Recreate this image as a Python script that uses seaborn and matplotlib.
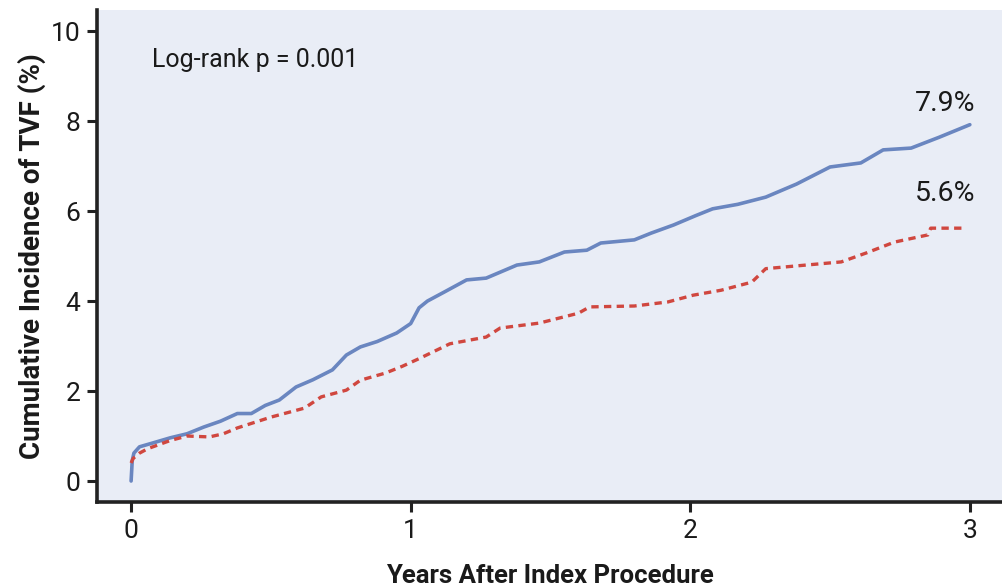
import numpy as np
import pandas as pd
import matplotlib
matplotlib.use("Agg")
import matplotlib.pyplot as plt
import seaborn as sns

# Cumulative incidence of target vessel failure (%) by years after index procedure
years_a = [0.0, 0.004, 0.01, 0.03, 0.08, 0.14, 0.2, 0.26, 0.32, 0.38, 0.43, 0.48, 0.53,
           0.59, 0.65, 0.72, 0.77, 0.82, 0.88, 0.95, 1.0, 1.03, 1.06, 1.12, 1.2, 1.27,
           1.38, 1.46, 1.55, 1.63, 1.68, 1.8, 1.86, 1.94, 2.02, 2.08, 2.17, 2.27, 2.38,
           2.5, 2.61, 2.69, 2.79, 2.89, 3.0]
tvf_a = [0.0, 0.45, 0.62, 0.76, 0.85, 0.96, 1.05, 1.2, 1.33, 1.5, 1.5, 1.68, 1.8,
         2.09, 2.25, 2.47, 2.8, 2.98, 3.1, 3.29, 3.5, 3.85, 4.0, 4.2, 4.47, 4.51,
         4.8, 4.87, 5.09, 5.13, 5.29, 5.36, 5.51, 5.69, 5.9, 6.05, 6.15, 6.31, 6.6,
         6.98, 7.07, 7.36, 7.4, 7.64, 7.92]

years_b = [0.0, 0.007, 0.03, 0.06, 0.14, 0.2, 0.28, 0.33, 0.38, 0.5, 0.62, 0.68, 0.77,
           0.82, 0.91, 0.97, 1.03, 1.14, 1.27, 1.32, 1.46, 1.6, 1.64, 1.8, 1.92, 2.01,
           2.11, 2.22, 2.27, 2.54, 2.63, 2.73, 2.85, 2.86, 2.98]
tvf_b = [0.4, 0.5, 0.62, 0.72, 0.9, 1.0, 0.98, 1.05, 1.18, 1.42, 1.62, 1.87, 2.02,
         2.24, 2.4, 2.55, 2.72, 3.05, 3.2, 3.4, 3.51, 3.73, 3.87, 3.89, 3.98, 4.13,
         4.24, 4.42, 4.72, 4.87, 5.07, 5.31, 5.47, 5.62, 5.62]

final_labels = ["7.9%", "5.6%"]
final_values = [7.9, 5.6]
x_ticks = [0, 1, 2, 3]
y_ticks = [0, 2, 4, 6, 8, 10]

sns.set_theme(style="ticks")
plt.rcParams["font.family"] = ["Roboto", "DejaVu Sans"]

fig = plt.figure(figsize=(10.02, 5.86), dpi=100)
ax = fig.add_axes([0.0968, 0.1433, 0.9032, 0.8397])
ax.set_facecolor("#e9edf6")

df_a = pd.DataFrame({"years": years_a, "tvf": tvf_a})
df_b = pd.DataFrame({"years": years_b, "tvf": tvf_b})

sns.lineplot(data=df_a, x="years", y="tvf", ax=ax, color="#6a86c0",
             linewidth=2.6, estimator=None, sort=False)
sns.lineplot(data=df_b, x="years", y="tvf", ax=ax, color="#d0473f",
             linewidth=2.4, estimator=None, sort=False, linestyle=(0, (2.2, 1.6)))

ax.set_xlim(-0.122, 3.115)
ax.set_ylim(-0.467, 10.47)
ax.set_xticks(x_ticks)
ax.set_yticks(y_ticks)
ax.tick_params(axis="both", labelsize=19, length=7, width=2.2, color="#222222",
               labelcolor="#1a1a1a", pad=5)

for side in ("top", "right"):
    ax.spines[side].set_visible(False)
for side in ("left", "bottom"):
    ax.spines[side].set_linewidth(2.6)
    ax.spines[side].set_color("#222222")

ax.set_xlabel("Years After Index Procedure", fontsize=18.5, fontweight="bold",
              color="#1a1a1a", labelpad=15)
ax.set_ylabel("Cumulative Incidence of TVF (%)", fontsize=20, fontweight="bold",
              color="#1a1a1a", labelpad=3)

ax.text(0.075, 9.36, "Log-rank p = 0.001", fontsize=18, color="#1a1a1a",
        ha="left", va="center")

# end-of-follow-up labels, lifted clear of each curve
label_lift = [0.2, 0.48]
for val, lab, lift in zip(final_values, final_labels, label_lift):
    ax.text(3.02, val + lift, lab, fontsize=20.5, color="#1a1a1a",
            ha="right", va="bottom")

fig.savefig("out.png", dpi=100)
